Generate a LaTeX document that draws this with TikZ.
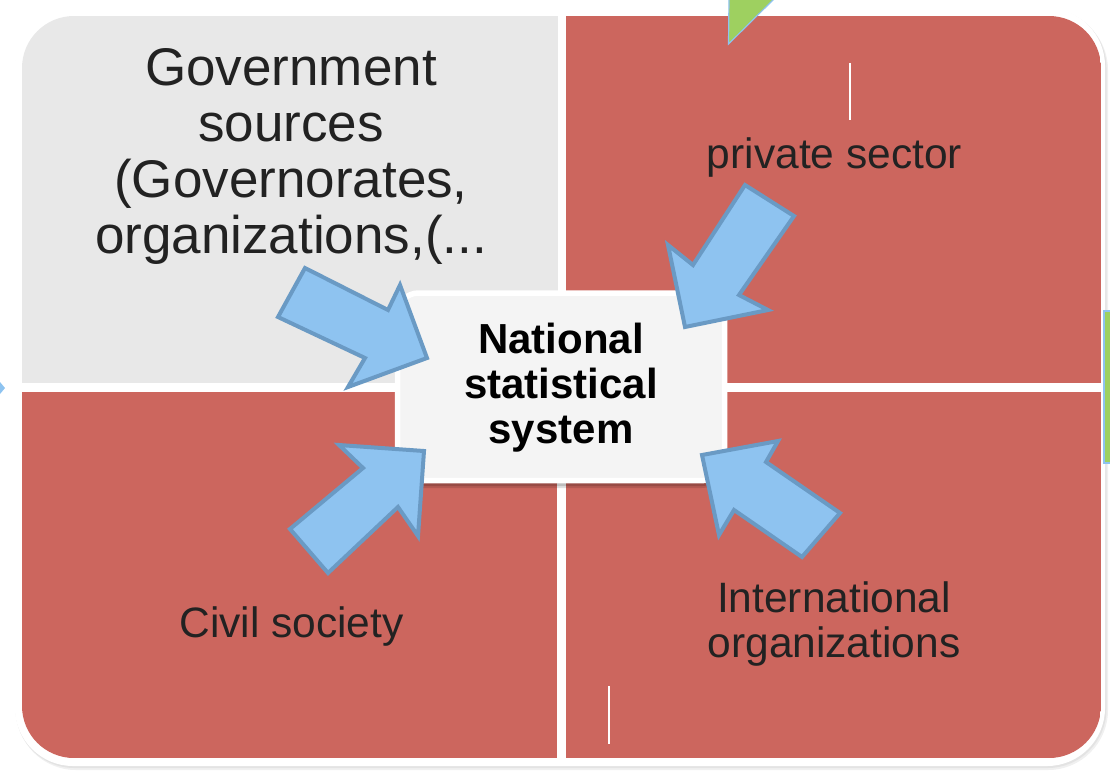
\documentclass[tikz,border=0pt]{standalone}
\usepackage{fontspec}
\setmainfont{Liberation Sans}
\definecolor{qred}{RGB}{204,102,94}
\definecolor{qgray}{RGB}{232,232,232}
\definecolor{afill}{RGB}{142,195,240}
\definecolor{aline}{RGB}{106,154,196}
\definecolor{qgreen}{RGB}{158,208,96}
\definecolor{qtextc}{RGB}{34,34,34}
\definecolor{boxfill}{RGB}{244,244,244}
\begin{document}
\begin{tikzpicture}[x=1pt,y=-1pt,
  qtext/.style={text=qtextc, inner sep=0pt, align=center, font=\fontsize{42.5}{45}\selectfont},
  barrow/.style={fill=afill, draw=aline, line width=4pt, line join=miter},
  centerlabel/.style={minimum width=327pt, minimum height=188pt, inner sep=0pt, align=center,
    font=\bfseries\fontsize{42}{45}\selectfont, text=black},
  boxshape/.style={draw=white, line width=5.5pt, fill=boxfill},
  whiteline/.style={draw=white, line width=1.3pt}
]
\useasboundingbox (0,0) rectangle (1110,772);
% outer frame shadow and white border
\fill[black!6, rounded corners=60pt] (16,10) rectangle (1108,770);
\fill[black!11, rounded corners=59pt] (15.5,9) rectangle (1106.5,768);
\fill[white, rounded corners=58pt] (15,8) rectangle (1105,766);
% quadrants
\begin{scope}
  \clip[rounded corners=52pt] (22,16) rectangle (1101,758);
  \fill[qgray] (22,16) rectangle (558,383);
  \fill[qred] (566,16) rectangle (1101,383);
  \fill[qred] (22,392) rectangle (557,758);
  \fill[qred] (566,392) rectangle (1101,758);
\end{scope}
% thin white marks
\draw[whiteline] (850,63) -- (850,120);
\draw[whiteline] (609,686) -- (609,744);
% partial shapes at the edges
\fill[afill] (0,382) -- (5,388) -- (0,394) -- cycle;
\fill[qgreen, draw=afill, line width=1.2pt] (1104,311) rectangle (1114,463);
% quadrant texts
\node[qtext, font=\fontsize{53}{56}\selectfont] (gov) at (291,156) {Government\\sources\\(Governorates,\\organizations,(...};
\node[qtext, anchor=base] (priv) at (834.5,168) {private sector};
\node[qtext, anchor=base] (civ) at (291.5,637) {Civil society};
\node[qtext] (intl) at (834,623.5) {International\\organizations};
% center box
\fill[black, opacity=0.12, rounded corners=24pt] (398,298) rectangle (726,488);
\fill[black, opacity=0.15, rounded corners=23pt] (398.5,297) rectangle (725.5,486);
\draw[boxshape, rounded corners=21pt] (397.5,293) -- (724.5,293) -- (724.5,480.5) -- (397.5,480.5) -- cycle;
\node[centerlabel] (nss) at (561,388) {National\\statistical\\system};
% block arrows
\draw[barrow] (305,268) -- (388,310) -- (400,285) -- (427,358) -- (348,387) -- (365,358) -- (278,317) -- cycle;
\draw[barrow] (745,185) -- (794,216) -- (739,295) -- (768,310) -- (685,327) -- (668,245) -- (693,265) -- cycle;
\draw[barrow] (290,529) -- (363,468) -- (339,445) -- (424,451) -- (418,536) -- (398,507) -- (328,573) -- cycle;
\draw[barrow] (840,513) -- (766,462) -- (778,441) -- (702,455) -- (719,535) -- (734,510) -- (802,557) -- cycle;
% green triangle at the top
\fill[qgreen, draw=afill, line width=1.2pt] (729,-2) -- (775,-2) -- (728.5,44) -- cycle;
\end{tikzpicture}
\end{document}
